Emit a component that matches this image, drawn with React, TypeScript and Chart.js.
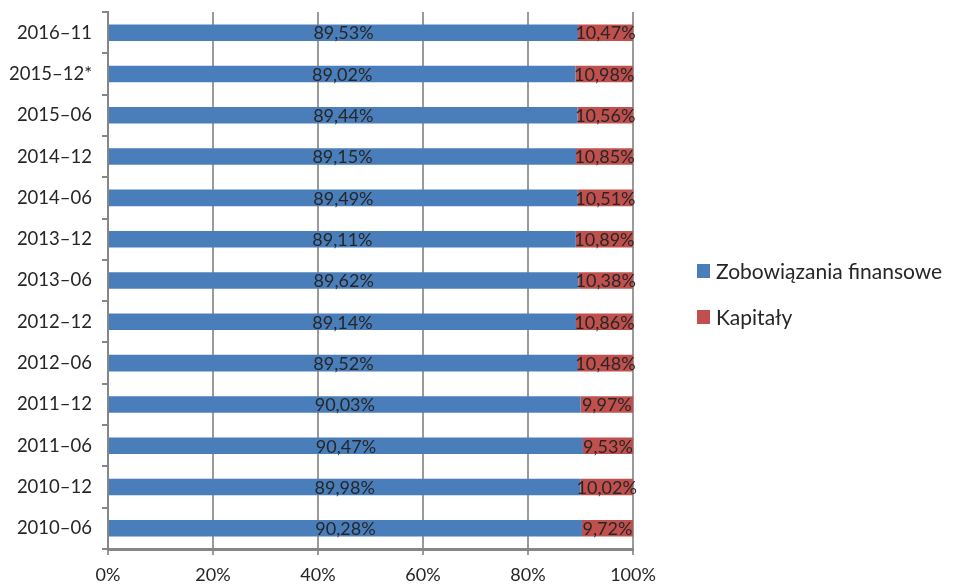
import React, { useEffect, useRef } from "react";
import { Chart, registerables } from "chart.js";

Chart.register(...registerables);

const categories = [
  "2016–11",
  "2015–12*",
  "2015–06",
  "2014–12",
  "2014–06",
  "2013–12",
  "2013–06",
  "2012–12",
  "2012–06",
  "2011–12",
  "2011–06",
  "2010–12",
  "2010–06",
];

const liabilities = [89.53, 89.02, 89.44, 89.15, 89.49, 89.11, 89.62, 89.14, 89.52, 90.03, 90.47, 89.98, 90.28];
const equity = [10.47, 10.98, 10.56, 10.85, 10.51, 10.89, 10.38, 10.86, 10.48, 9.97, 9.53, 10.02, 9.72];

const seriesNames = ["Zobowiązania finansowe", "Kapitały"];
const seriesColors = ["#4A7EBB", "#C0504D"];
const xTicks = [0, 20, 40, 60, 80, 100];

const FONT = "Lato, 'Liberation Sans', sans-serif";
const TEXT = "#262626";
const AXIS = "#868686";

const fmt = (v: number) => v.toFixed(2).replace(".", ",") + "%";

const valueLabels = {
  id: "valueLabels",
  afterDatasetsDraw(chart: any) {
    const ctx = chart.ctx;
    ctx.save();
    ctx.font = `18px ${FONT}`;
    ctx.fillStyle = TEXT;
    ctx.textAlign = "center";
    ctx.textBaseline = "middle";
    chart.data.datasets.forEach((ds: any, di: number) => {
      const meta = chart.getDatasetMeta(di);
      meta.data.forEach((el: any, i: number) => {
        const cx = (el.x + el.base) / 2;
        ctx.fillText(fmt(ds.data[i]), cx, el.y + 1);
      });
    });
    ctx.restore();
  },
};

const sideLegend = {
  id: "sideLegend",
  afterDraw(chart: any) {
    const ctx = chart.ctx;
    ctx.save();
    ctx.font = `21px ${FONT}`;
    ctx.textBaseline = "middle";
    ctx.textAlign = "left";
    const x0 = 697;
    const ys = [271, 317];
    chart.data.datasets.forEach((ds: any, i: number) => {
      ctx.fillStyle = ds.backgroundColor;
      ctx.fillRect(x0, ys[i] - 7, 13, 14);
      ctx.fillStyle = TEXT;
      ctx.fillText(ds.label, x0 + 19, ys[i] + 1);
    });
    ctx.restore();
  },
};

export default function App() {
  const ref = useRef<HTMLCanvasElement | null>(null);

  useEffect(() => {
    if (!ref.current) return;
    const chart = new Chart(ref.current, {
      type: "bar",
      data: {
        labels: categories,
        datasets: [
          { label: seriesNames[0], data: liabilities, backgroundColor: seriesColors[0] },
          { label: seriesNames[1], data: equity, backgroundColor: seriesColors[1] },
        ],
      },
      options: {
        indexAxis: "y",
        animation: false,
        responsive: true,
        maintainAspectRatio: false,
        datasets: { bar: { categoryPercentage: 1, barPercentage: 0.4 } },
        layout: { padding: { top: 12, right: 322, left: 0, bottom: 0 } },
        plugins: { legend: { display: false }, tooltip: { enabled: false } },
        scales: {
          x: {
            stacked: true,
            min: 0,
            max: 100,
            afterBuildTicks: (s: any) => {
              s.ticks = xTicks.map((v) => ({ value: v }));
            },
            afterFit: (s: any) => {
              s.height = 36;
              s.paddingLeft = 0;
              s.paddingRight = 0;
            },
            ticks: {
              callback: (v: any) => v + "%",
              color: TEXT,
              font: { family: FONT, size: 18 },
              padding: 9,
              maxRotation: 0,
            },
            grid: { color: "#9A9A9A", lineWidth: 2, tickLength: 6, drawTicks: true },
            border: { color: AXIS, width: 3 },
          },
          y: {
            stacked: true,
            afterFit: (s: any) => {
              s.width = 108;
              s.paddingTop = 0;
              s.paddingBottom = 0;
            },
            ticks: {
              color: TEXT,
              font: { family: FONT, size: 18.5 },
              padding: 10,
            },
            grid: { offset: true, drawOnChartArea: false, color: AXIS, lineWidth: 2, tickLength: 6 },
            border: { color: AXIS, width: 2 },
          },
        },
      },
      plugins: [valueLabels, sideLegend],
    });
    return () => chart.destroy();
  }, []);

  return (
    <div style={{ position: "fixed", left: 0, top: 0, width: 955, height: 585, background: "#fff" }}>
      <canvas ref={ref} />
    </div>
  );
}
